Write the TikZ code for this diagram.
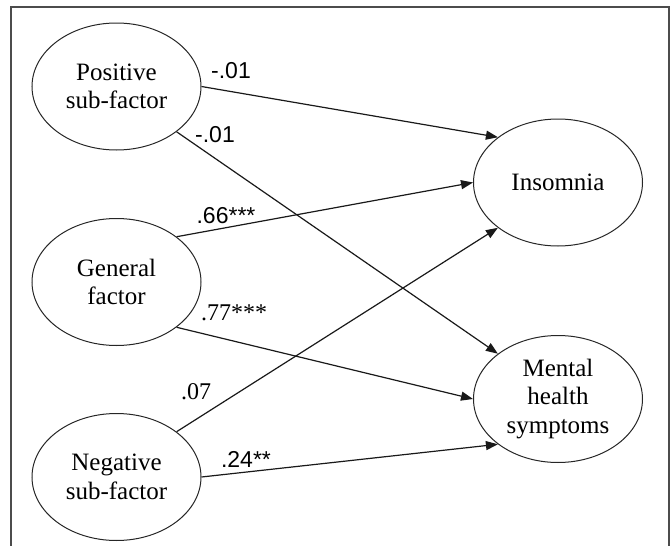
\documentclass[tikz,border=0pt]{standalone}
\usepackage{fontspec}
\setmainfont{Liberation Serif}
\newfontfamily\lblsans{Liberation Sans}
\usetikzlibrary{arrows.meta,shapes.geometric}
\begin{document}
\begin{tikzpicture}[x=1pt,y=-1pt,
  latent/.style={ellipse,draw=black!85,line width=1pt,minimum width=169pt,minimum height=127pt,inner sep=0pt,align=center,font=\fontsize{25}{28.5}\selectfont},
  path/.style={draw=black!90,line width=1.2pt,-{Triangle[length=12pt,width=9pt]}},
  lblS/.style={font=\lblsans\fontsize{23}{26}\selectfont,inner sep=0pt},
  lblR/.style={font=\rmfamily\fontsize{24}{26}\selectfont,inner sep=0pt},
  frame/.style={draw=black!70,line width=1.6pt}]
\useasboundingbox (0,0) rectangle (670,546);
\coordinate (fbl) at (11,546);
\coordinate (ftl) at (11,7);
\coordinate (ftr) at (669,7);
\coordinate (fbr) at (669,546);
\draw[frame] (fbl) -- (ftl) -- (ftr) -- (fbr);
\node[latent] (pos) at (116.5,86.5) {Positive\\sub-factor};
\node[latent] (gen) at (116.5,282) {General\\factor};
\node[latent] (neg) at (116.5,477) {Negative\\sub-factor};
\node[latent] (ins) at (558,182.5) {Insomnia};
\node[latent] (men) at (558,399) {Mental\\health\\symptoms};
\draw[path] (pos.east) -- (ins.143);
\draw[path] (pos.-37) -- (men.143);
\draw[path] (gen.37) -- (ins.west);
\draw[path] (gen.-37) -- (men.west);
\draw[path] (neg.37) -- (ins.217);
\draw[path] (neg.east) -- (men.217);
\node[lblS] (l1) at (231,71) {-.01};
\node[lblS] (l2) at (215,135) {-.01};
\node[lblS] (l3) at (226,216) {.66***};
\node[lblR] (l4) at (234,313) {.77***};
\node[lblR] (l5) at (196,392) {.07};
\node[lblS] (l6) at (246,459) {.24**};
\end{tikzpicture}
\end{document}
